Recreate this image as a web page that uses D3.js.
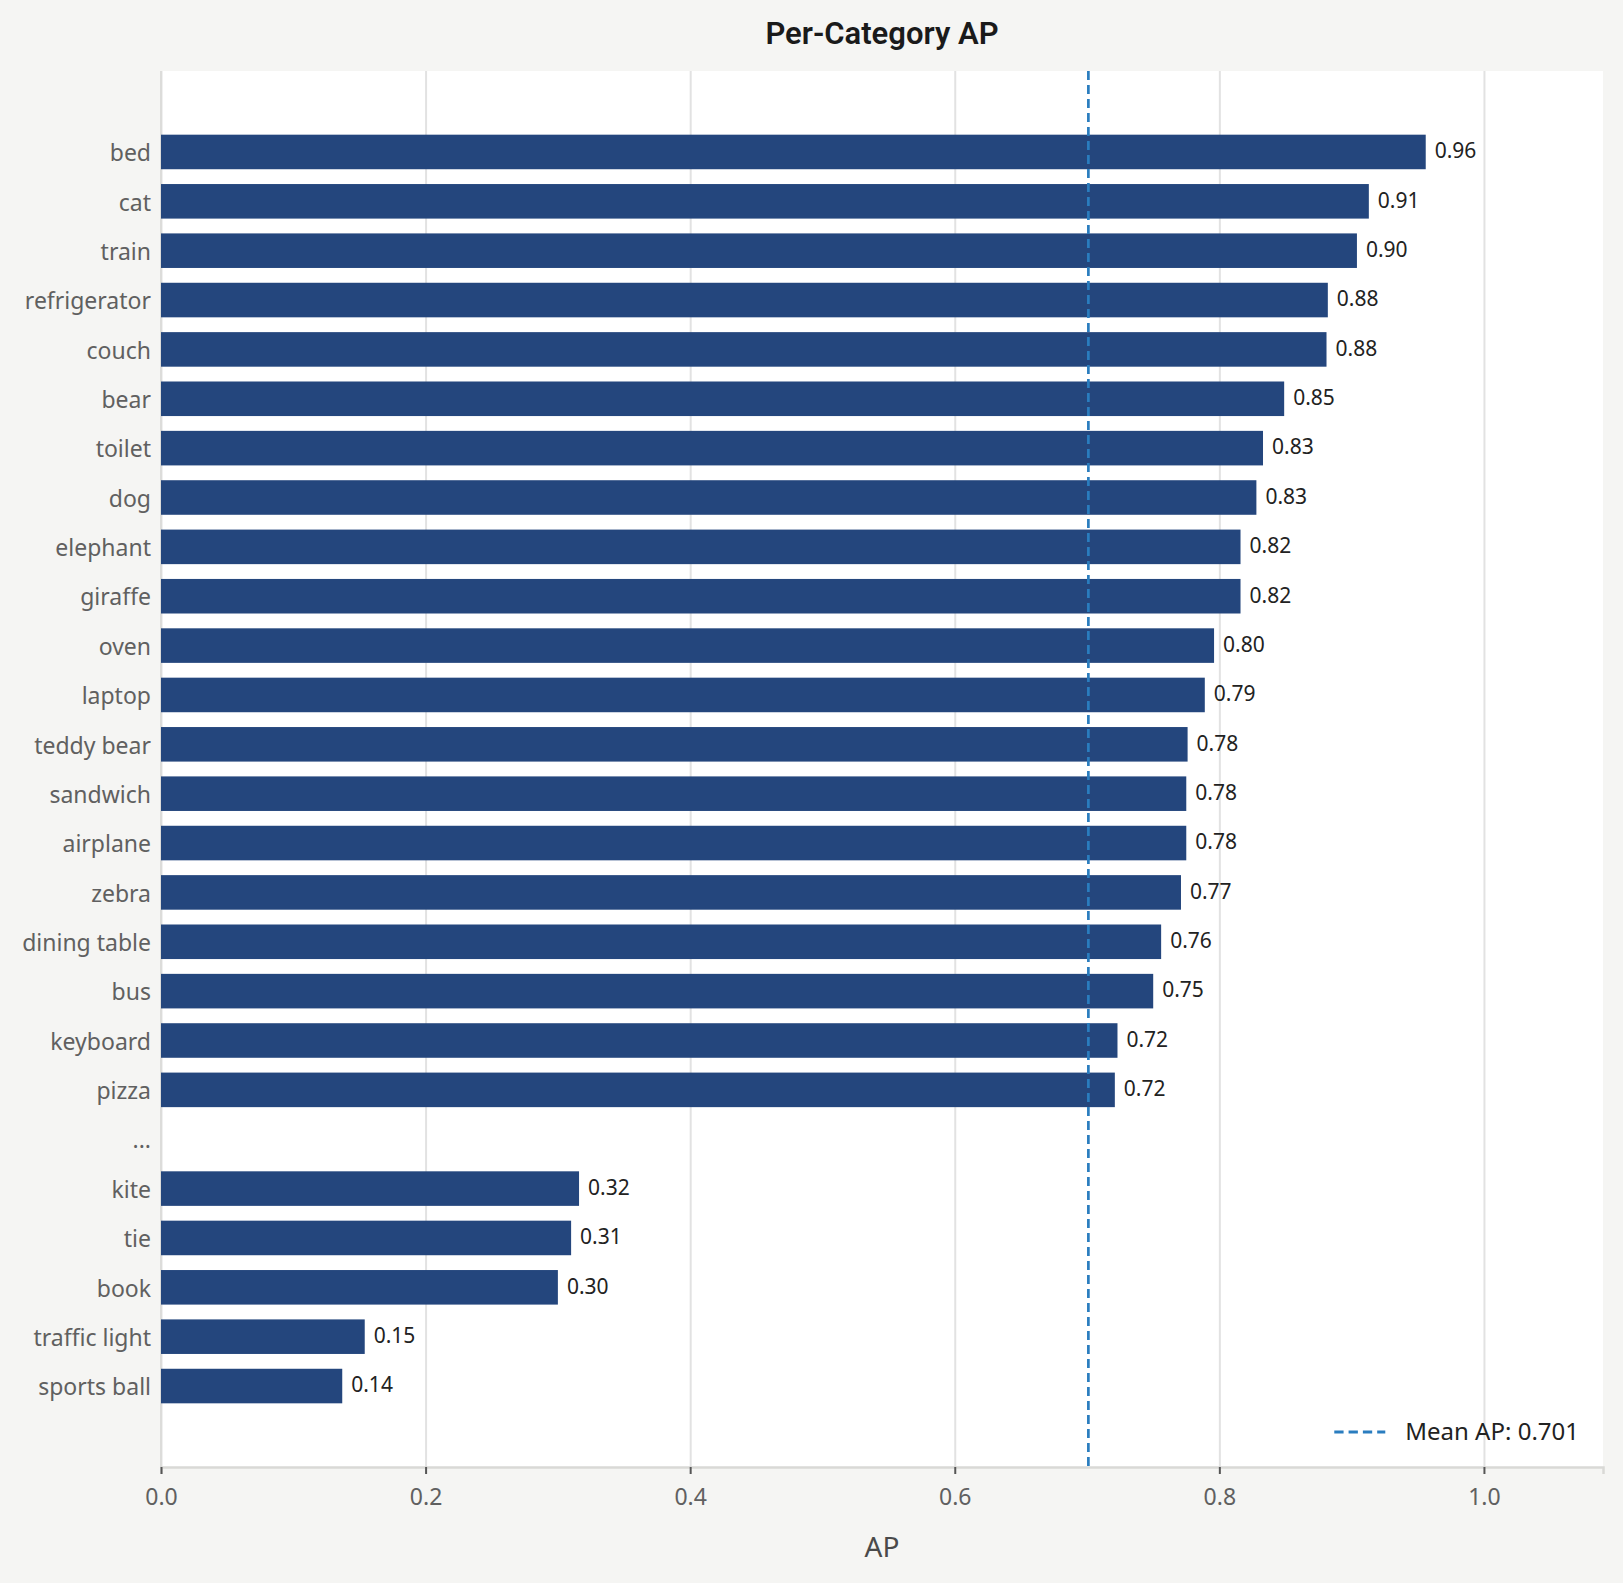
<!DOCTYPE html>
<html>
<head>
<meta charset="utf-8">
<script src="https://cdn.jsdelivr.net/npm/d3@7"></script>
<style>
  body { margin: 0; background: #f5f5f3; }
  svg { display: block; font-family: "Noto Sans", Roboto, sans-serif; }
</style>
</head>
<body>
<svg id="chart" width="1623" height="1583"></svg>
<script>
"use strict";

// Categories, sorted by AP (the "..." row stands for the hidden middle ones)
var categories = [
  "bed", "cat", "train", "refrigerator", "couch", "bear", "toilet", "dog",
  "elephant", "giraffe", "oven", "laptop", "teddy bear", "sandwich", "airplane",
  "zebra", "dining table", "bus", "keyboard", "pizza", "...",
  "kite", "tie", "book", "traffic light", "sports ball"
];

// AP per category (null = no bar)
var apValues = [
  0.956, 0.913, 0.904, 0.882, 0.881, 0.849, 0.833, 0.828,
  0.816, 0.816, 0.796, 0.789, 0.776, 0.775, 0.775,
  0.771, 0.756, 0.750, 0.723, 0.721, null,
  0.316, 0.310, 0.300, 0.154, 0.137
];

var xTicks = [0.0, 0.2, 0.4, 0.6, 0.8, 1.0];
var xMax = 1.09;
var meanAP = 0.701;

var svg = d3.select("#chart");
var width = +svg.attr("width");
var height = +svg.attr("height");
var margin = { top: 71, right: 20, bottom: 116, left: 161 };
var plotW = width - margin.left - margin.right;
var plotH = height - margin.top - margin.bottom;
var fontFamily = "'Noto Sans', Roboto, sans-serif";

var data = categories.map(function (c, i) {
  return { name: c, value: apValues[i] };
});

var x = d3.scaleLinear()
  .domain([0, xMax])
  .range([0, plotW]);

var y = d3.scaleBand()
  .domain(categories)
  .range([0, plotH])
  .paddingInner(0.3)
  .paddingOuter(1.29);

var g = svg.append("g")
  .attr("transform", "translate(" + margin.left + "," + margin.top + ")");

// Plot background
g.append("rect")
  .attr("width", plotW)
  .attr("height", plotH)
  .attr("fill", "white");

// Vertical gridlines
g.append("g")
  .attr("class", "grid")
  .attr("transform", "translate(0," + plotH + ")")
  .call(d3.axisBottom(x).tickValues(xTicks).tickSize(-plotH).tickFormat(""))
  .call(function (s) {
    s.select(".domain").remove();
    s.selectAll("line").attr("stroke", "#e2e2e2").attr("stroke-width", 2);
  });

// Left spine
g.append("line")
  .attr("x1", 0).attr("x2", 0)
  .attr("y1", 0).attr("y2", plotH)
  .attr("stroke", "#dcdcda")
  .attr("stroke-width", 2);

// Bars
var rows = data.filter(function (d) { return d.value !== null; });

g.selectAll("rect.bar")
  .data(rows)
  .enter()
  .append("rect")
  .attr("class", "bar")
  .attr("x", 0)
  .attr("y", function (d) { return y(d.name); })
  .attr("width", function (d) { return x(d.value); })
  .attr("height", y.bandwidth())
  .attr("fill", "#24467d");

// Value labels to the right of each bar
g.selectAll("text.value")
  .data(rows)
  .enter()
  .append("text")
  .attr("class", "value")
  .attr("x", function (d) { return x(d.value) + 9; })
  .attr("y", function (d) { return y(d.name) + y.bandwidth() / 2; })
  .attr("dy", "0.3em")
  .attr("fill", "#222")
  .style("font-size", "21px")
  .text(function (d) { return d3.format(".2f")(d.value); });

// Mean AP line
g.append("line")
  .attr("x1", x(meanAP)).attr("x2", x(meanAP))
  .attr("y1", 0).attr("y2", plotH)
  .attr("stroke", "#2a7dbf")
  .attr("stroke-width", 2.7)
  .attr("stroke-dasharray", "9,5");

// Category axis
g.append("g")
  .call(d3.axisLeft(y).tickSize(0).tickPadding(10))
  .attr("font-family", fontFamily)
  .call(function (s) {
    s.select(".domain").remove();
    s.selectAll("text")
      .attr("dy", "0.4em")
      .attr("fill", "#606060")
      .style("font-size", "23px");
  });

// AP axis
g.append("g")
  .attr("transform", "translate(0," + plotH + ")")
  .call(d3.axisBottom(x).tickValues(xTicks).tickSize(7).tickPadding(15)
    .tickFormat(d3.format(".1f")))
  .attr("font-family", fontFamily)
  .call(function (s) {
    s.select(".domain")
      .attr("stroke", "#d9d9d6")
      .attr("stroke-width", 2.5);
    s.selectAll(".tick line")
      .attr("stroke", "#555")
      .attr("stroke-width", 2);
    s.selectAll("text")
      .attr("fill", "#606060")
      .style("font-size", "23px");
  });

// Axis title
g.append("text")
  .attr("x", plotW / 2)
  .attr("y", plotH + 90)
  .attr("text-anchor", "middle")
  .attr("fill", "#4a4a4a")
  .style("font-size", "28px")
  .text("AP");

// Chart title
svg.append("text")
  .attr("x", margin.left + plotW / 2)
  .attr("y", 44)
  .attr("text-anchor", "middle")
  .attr("fill", "#1a1a1a")
  .style("font-family", "Roboto, sans-serif")
  .style("font-size", "31px")
  .style("font-weight", 600)
  .text("Per-Category AP");

// Legend, bottom right inside the plot
var legend = g.append("g")
  .attr("class", "legend");

var legendText = legend.append("text")
  .attr("x", plotW - 24)
  .attr("y", plotH - 27)
  .attr("text-anchor", "end")
  .attr("fill", "#222")
  .style("font-size", "24px")
  .text("Mean AP: " + meanAP.toFixed(3));

var textLeft = plotW - 24 - legendText.node().getComputedTextLength();

legend.append("line")
  .attr("x1", textLeft - 71)
  .attr("x2", textLeft - 20)
  .attr("y1", plotH - 35)
  .attr("y2", plotH - 35)
  .attr("stroke", "#2a7dbf")
  .attr("stroke-width", 3)
  .attr("stroke-dasharray", "9.3,5");
</script>
</body>
</html>
